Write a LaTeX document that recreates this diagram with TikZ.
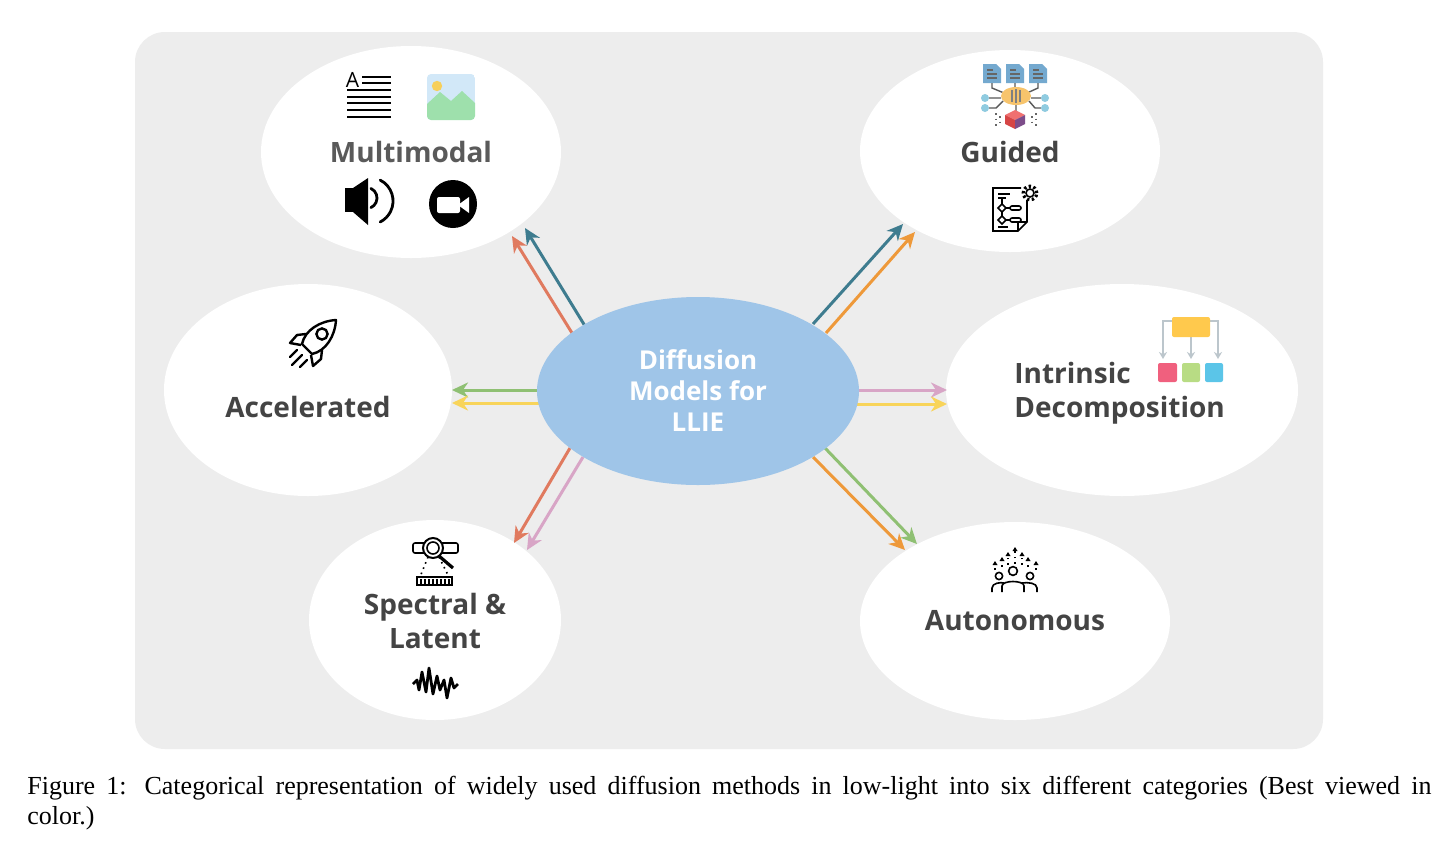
\documentclass[tikz,border=0pt]{standalone}
\usepackage{fontspec}
\setmainfont{Liberation Serif}
\newfontfamily\lblfont{Open Sans}
\usetikzlibrary{arrows.meta,shapes.geometric}
\definecolor{bgc}{HTML}{EDEDED}
\definecolor{centc}{HTML}{9FC5E8}
\definecolor{tealc}{HTML}{3E7C8F}
\definecolor{redc}{HTML}{E07A5F}
\definecolor{orangec}{HTML}{EE993A}
\definecolor{greenc}{HTML}{8FC073}
\definecolor{yellowc}{HTML}{F8D45A}
\definecolor{pinkc}{HTML}{D8A5C6}
\definecolor{labc}{HTML}{444444}
\definecolor{multc}{HTML}{5A5A5A}
\definecolor{skyc}{HTML}{D2E8F8}
\definecolor{mountc}{HTML}{9EE0AC}
\definecolor{sunc}{HTML}{F7CF5A}
\definecolor{docc}{HTML}{74A9CF}
\definecolor{brainc}{HTML}{F7C46C}
\definecolor{dotc}{HTML}{8FCBE0}
\definecolor{cubetop}{HTML}{F07070}
\definecolor{cubeleft}{HTML}{D64545}
\definecolor{cuberight}{HTML}{7D4D8A}
\definecolor{boxy}{HTML}{FFC94D}
\definecolor{boxp}{HTML}{F0607E}
\definecolor{boxg}{HTML}{B8DC84}
\definecolor{boxc}{HTML}{5BC5E8}
\definecolor{grayarr}{HTML}{BCC6CC}
\begin{document}
\begin{tikzpicture}[x=0.5pt,y=-0.5pt,
  outer/.style={ellipse,fill=white,draw=none,inner sep=0pt},
  lbl/.style={font=\lblfont\bfseries\fontsize{14}{17}\selectfont,text=labc,align=center,inner sep=0pt},
  conn/.style={line width=1.5pt,-{Stealth[length=8pt,width=7.5pt,inset=2.5pt]}},
  ico/.style={line width=0.8pt,black}
]
\useasboundingbox (0,0) rectangle (1456,863);
\fill[white] (0,0) rectangle (1456,863);
\fill[bgc,rounded corners=15pt] (135,32) rectangle (1323,749);

% outer ellipses
\node[outer,minimum width=150pt,minimum height=106pt] (multi) at (411,152) {};
\node[outer,minimum width=150pt,minimum height=101pt] (guided) at (1010,151) {};
\node[outer,minimum width=144pt,minimum height=106pt] (accel) at (308,390) {};
\node[outer,minimum width=176pt,minimum height=106pt] (intr) at (1122,390) {};
\node[outer,minimum width=126pt,minimum height=100pt] (spec) at (435,620) {};
\node[outer,minimum width=155pt,minimum height=99pt] (auto) at (1015,621) {};

% arrow end points
\coordinate (m1s) at (572,333); \coordinate (m1e) at (512,236);
\coordinate (m2s) at (585,326); \coordinate (m2e) at (525,228);
\coordinate (g1s) at (813,324); \coordinate (g1e) at (903,224);
\coordinate (g2s) at (826,333); \coordinate (g2e) at (915,232);
\coordinate (a1s) at (545,390); \coordinate (a1e) at (452,390);
\coordinate (a2s) at (545,403); \coordinate (a2e) at (452,403);
\coordinate (i1s) at (850,390); \coordinate (i1e) at (947,390);
\coordinate (i2s) at (850,404); \coordinate (i2e) at (947,404);
\coordinate (s1s) at (570,448); \coordinate (s1e) at (514,543);
\coordinate (s2s) at (583,457); \coordinate (s2e) at (527,550);
\coordinate (u1s) at (825,448); \coordinate (u1e) at (917,544);
\coordinate (u2s) at (813,457); \coordinate (u2e) at (905,550);

\draw[conn,redc] (m1s) -- (m1e);
\draw[conn,tealc] (m2s) -- (m2e);
\draw[conn,tealc] (g1s) -- (g1e);
\draw[conn,orangec] (g2s) -- (g2e);
\draw[conn,greenc] (a1s) -- (a1e);
\draw[conn,yellowc] (a2s) -- (a2e);
\draw[conn,pinkc] (i1s) -- (i1e);
\draw[conn,yellowc] (i2s) -- (i2e);
\draw[conn,redc] (s1s) -- (s1e);
\draw[conn,pinkc] (s2s) -- (s2e);
\draw[conn,greenc] (u1s) -- (u1e);
\draw[conn,orangec] (u2s) -- (u2e);

% central
\node[ellipse,fill=centc,inner sep=0pt,minimum width=161pt,minimum height=94pt] (center) at (698,391) {};
\node[lbl,text=white,font=\lblfont\bfseries\fontsize{13}{15.5}\selectfont] (ctext) at (698,391) {Diffusion\\Models for\\LLIE};

% labels
\node[lbl,text=multc] (tmulti) at (411,152) {Multimodal};
\node[lbl] (tguided) at (1010,152) {Guided};
\node[lbl] (taccel) at (308,407) {Accelerated};
\node[lbl,align=left,anchor=west] (tintr) at (1014,393) {Intrinsic\\Decomposition};
\node[lbl] (tspec) at (435,621) {Spectral \&\\Latent};
\node[lbl] (tauto) at (1015,621) {Autonomous};

% ---- Multimodal icons
\node[inner sep=0pt,anchor=base,font=\lblfont\fontsize{10.5}{11}\selectfont] (aletter) at (352.5,87) {A};
\draw[ico,line width=1pt] (362,77)--(391,77) (362,83)--(391,83)
  (347,90)--(391,90) (347,97)--(391,97) (347,103)--(391,103) (347,110)--(391,110) (347,117)--(391,117);
\begin{scope}
\clip[rounded corners=2pt] (427,74) rectangle (475,120);
\fill[skyc] (427,74) rectangle (475,120);
\fill[mountc] (427,104) -- (440,92) -- (451,101) -- (462,91) -- (475,103) -- (475,120) -- (427,120) -- cycle;
\fill[sunc] (437,86) circle (2.6pt);
\end{scope}
% speaker
\fill[black] (345,188) rectangle (354,212);
\fill[black] (353,188) -- (368,178) -- (368,225) -- (353,212) -- cycle;
\draw[black,line width=1.4pt,line cap=round] (370.9,188.4) arc[start angle=-65,end angle=65,radius=10.6];
\draw[black,line width=1.4pt,line cap=round] (380.2,180.1) arc[start angle=-63,end angle=63,radius=23.5];
% video
\fill[black] (453,204) circle (12pt);
\fill[white,rounded corners=1pt] (437,197) rectangle (460,213);
\fill[white] (458,205) -- (469,197) -- (469,213) -- cycle;

% ---- Guided icons
\foreach \x in {983,1006,1029}{
  \fill[docc] (\x,64) -- (\x+13,64) -- (\x+18,69) -- (\x+18,83) -- (\x,83) -- cycle;
  \draw[line width=0.6pt,black!60] (\x+4,70)--(\x+10,70) (\x+4,74)--(\x+14,74) (\x+4,78)--(\x+14,78);
}
\draw[line width=0.7pt,black!65] (992,83)--(992,88)--(1004,93) (1015,83)--(1015,88) (1038,83)--(1038,88)--(1027,93)
  (989,98)--(1001,98) (989,108)--(996,108)--(1003,101) (1041,98)--(1031,98) (1041,108)--(1035,108)--(1029,101)
  (1016,105)--(1016,111);
\fill[brainc] (1016,96) ellipse [x radius=15,y radius=9];
\draw[line width=0.6pt,black!50] (1012,90)--(1012,102) (1016,89)--(1016,103) (1020,90)--(1020,102);
\fill[dotc] (985,98) circle (2pt) (985,108) circle (2pt) (1045,98) circle (2pt) (1045,108) circle (2pt);
\fill[cubetop] (1015,110) -- (1025,115) -- (1015,120) -- (1005,115) -- cycle;
\fill[cubeleft] (1005,115) -- (1015,120) -- (1015,129) -- (1005,124) -- cycle;
\fill[cuberight] (1015,120) -- (1025,115) -- (1025,124) -- (1015,129) -- cycle;
\draw[line width=0.8pt,black!60,dotted] (996,113)--(996,126) (1000,116)--(1000,126) (1032,116)--(1032,126) (1036,113)--(1036,126);
% flowchart doc
\draw[ico] (1021,188) -- (993,188) -- (993,231) -- (1018,231) -- (1027,222) -- (1027,200);
\draw[ico] (1018,231) -- (1018,222) -- (1027,222);
\draw[ico] (998,194)--(1010,194) (998,198)--(1006,198);
\draw[ico] (1002,198)--(1002,204) (1002,204) -- (1006,208) -- (1002,212) -- (998,208) -- cycle
  (1002,212)--(1002,216) (1002,216) -- (1006,220) -- (1002,224) -- (998,220) -- cycle
  (1006,208)--(1010,208) (1006,220)--(1010,220);
\draw[ico,rounded corners=1pt] (1010,206) rectangle (1021,210) (1010,218) rectangle (1021,222);
\draw[ico] (998,227)--(1008,227);
\draw[ico] (1030,193) circle (2pt);
\draw[ico,line width=1.6pt,dash pattern=on 1.2pt off 1.2pt] (1030,193) circle (3.4pt);

% ---- Intrinsic icon
\draw[grayarr,line width=1.2pt,-{Stealth[length=3.5pt,width=4pt]}] (1172,321) -- (1163,321) -- (1163,359);
\draw[grayarr,line width=1.2pt,-{Stealth[length=3.5pt,width=4pt]}] (1210,321) -- (1218,321) -- (1218,359);
\draw[grayarr,line width=1.2pt,-{Stealth[length=3.5pt,width=4pt]}] (1191,337) -- (1191,359);
\fill[boxy,rounded corners=1pt] (1172,317) rectangle (1210,337);
\fill[boxp,rounded corners=1pt] (1158,363) rectangle (1177,382);
\fill[boxg,rounded corners=1pt] (1182,363) rectangle (1200,382);
\fill[boxc,rounded corners=1pt] (1205,363) rectangle (1223,382);

% ---- Rocket
\draw[ico,line width=1.2pt,line join=round] (302,344) .. controls (305,330) and (320,321) .. (336,320) .. controls (335,336) and (326,351) .. (312,354) -- cycle;
\draw[ico,line width=1.2pt] (322,334) circle (2.8pt);
\draw[ico,line width=1.2pt,line join=round] (306,334) -- (297,335) -- (290,343) -- (301,345);
\draw[ico,line width=1.2pt,line join=round] (322,350) -- (321,359) -- (313,366) -- (311,355);
\draw[ico,line width=1.2pt,line cap=round] (297,350)--(290,357) (302,355)--(292,365) (307,360)--(300,367);

% ---- Spectral icons
\draw[ico,rounded corners=1pt] (413,543) rectangle (458,553);
\fill[white] (433,548) circle (5pt);
\draw[ico,line width=1pt] (433,548) circle (5pt);
\draw[ico] (433,548) circle (3pt);
\draw[ico,line width=1.6pt] (439,556) -- (453,568);
\draw[ico,dotted] (428,557) -- (420,577) (439,557) -- (449,577);
\draw[ico] (417,577) rectangle (452,585);
\foreach \x in {421,425,429,433,437,441,445,449}{\draw[ico,line width=0.6pt] (\x,579)--(\x,584);}
\draw[ico,line width=1.4pt,line join=round] (413,684) -- (417,680) -- (419,690) -- (422,672) -- (426,692) -- (429,668) -- (433,694) -- (437,676) -- (440,690) -- (444,680) -- (447,698) -- (451,678) -- (454,688) -- (458,684);

% ---- Autonomous icon
\draw[ico] (1013,571) circle (2.2pt);
\draw[ico] (999,576) circle (1.8pt);
\draw[ico] (1030,576) circle (1.8pt);
\draw[ico] (1002,592) -- (1002,586) .. controls (1002,580) and (1024,580) .. (1024,586) -- (1024,592);
\draw[ico] (992,592) -- (992,588) .. controls (992,583) and (1001,582) .. (1004,583);
\draw[ico] (1037,592) -- (1037,588) .. controls (1037,583) and (1028,582) .. (1022,583);
\foreach \x/\t/\b in {995/561/570,1002/557/567,1008/552/565,1015/547/564,1022/552/565,1028/557/567,1036/561/570}{
  \draw[ico,dotted,line width=0.8pt] (\x,\b) -- (\x,\t+3);
  \fill[black] (\x,\t) -- (\x+2.5,\t+4) -- (\x-2.5,\t+4) -- cycle;
}

% caption
\node[anchor=north west,inner sep=0pt,text width=702pt,align=justify,font=\fontsize{13}{15}\selectfont] (caption) at (27,776)
 {Figure 1: Categorical representation of widely used diffusion methods in low-light into six different categories (Best viewed in\linebreak color.)};
\end{tikzpicture}
\end{document}
